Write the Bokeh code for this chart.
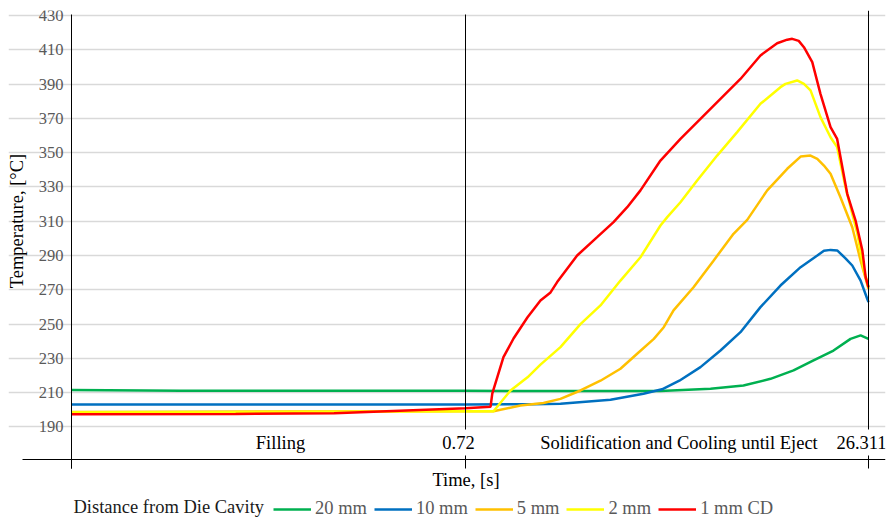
from bokeh.plotting import figure
from bokeh.models import (Range1d, LinearAxis, FixedTicker, Grid, Legend, LegendItem,
                          CustomJSTickFormatter, Label)
from bokeh.embed import file_html
from bokeh.resources import INLINE

# ---------------- data (time in s, temperature in degC) ----------------
T_FILL = 0.72
T_END = 26.311

t_20mm = [0, 0.2, 0.72, 6.0, 13.10, 16.28, 18.37, 20.09, 21.55, 22.82, 24.09, 25.17, 25.81, 26.311]
temp_20mm = [211.6, 211.2, 211.1, 211.0, 211.0, 212.3, 214.2, 218.1, 223.0, 228.8, 234.6, 241.4, 243.4, 241.4]

t_10mm = [0, 0.72, 5.0, 6.75, 9.93, 12.02, 13.2, 14.3, 15.64, 16.91, 18.18, 19.45, 20.72, 22.00,
          23.06, 23.48, 23.90, 24.32, 24.85, 25.28, 25.81, 26.24, 26.311]
temp_10mm = [203.1, 203.1, 203.3, 203.5, 205.9, 209.4, 212.0, 217.0, 224.9, 234.6, 245.3, 259.9, 272.5, 283.2,
             290.0, 292.8, 293.3, 293.0, 288.4, 284.2, 275.4, 264.5, 262.8]

t_5mm = [0, 0.72, 2.50, 4.21, 5.67, 6.75, 8.02, 9.29, 10.56, 11.62, 12.68, 13.31, 13.93, 15.20, 16.47,
         17.74, 18.61, 19.88, 21.15, 22.00, 22.63, 23.06, 23.48, 23.90, 24.53, 25.28, 25.81, 26.311]
temp_5mm = [198.8, 199.2, 199.2, 202.5, 204.0, 206.4, 211.3, 217.0, 224.0, 232.7, 241.4, 248.2, 258.0, 271.5, 287.0,
            302.7, 310.8, 328.0, 340.6, 347.7, 348.3, 346.4, 342.5, 337.7, 324.0, 306.5, 287.0, 270.6]

t_2mm = [0, 0.30, 0.60, 0.72, 2.50, 3.58, 4.66, 5.48, 6.75, 8.02, 9.29, 10.56, 11.83, 13.10, 13.53, 14.37,
         15.43, 16.70, 17.97, 19.45, 20.72, 21.04, 21.78, 22.21, 22.63, 23.26, 23.90, 24.32, 24.85, 25.28, 25.60,
         26.02, 26.311]
temp_2mm = [198.6, 198.7, 199.0, 199.2, 199.2, 211.3, 219.0, 226.4, 236.6, 250.0, 260.9, 275.4, 289.0, 307.5, 312.4, 321.1,
            333.8, 348.3, 362.0, 378.5, 388.2, 390.1, 392.1, 390.1, 386.3, 370.7, 359.0, 353.2, 329.9, 314.3, 303.0,
            281.3, 272.0]

t_1mm = [0, 0.30, 0.48, 0.60, 0.72, 2.31, 2.42, 3.13, 3.77, 4.66, 5.48, 6.12, 6.54, 7.81, 9.08, 10.12, 10.99,
         11.83, 13.10, 14.37, 15.64, 16.91, 18.18, 19.45, 20.51, 21.15, 21.47, 21.88, 22.21, 22.74, 23.26, 23.90,
         24.32, 24.96, 25.49, 25.92, 26.13, 26.311]
temp_1mm = [197.5, 197.6, 198.0, 199.5, 201.0, 201.8, 209.5, 230.7, 241.6, 254.0, 263.8, 268.5, 274.5, 290.0, 300.7, 309.5, 318.2,
            328.0, 345.4, 358.0, 369.7, 381.4, 393.0, 406.7, 413.8, 415.9, 416.4, 415.2, 411.5, 402.8, 384.3, 364.9,
            358.0, 326.0, 310.4, 293.0, 277.4, 271.5]

series_names = ["20 mm", "10 mm", "5 mm", "2 mm", "1 mm CD"]
series_t = [t_20mm, t_10mm, t_5mm, t_2mm, t_1mm]
series_temp = [temp_20mm, temp_10mm, temp_5mm, temp_2mm, temp_1mm]
series_colors = ["#00B050", "#0070C0", "#FFC000", "#FFFF00", "#FF0000"]
legend_title = "Distance from Die Cavity"

y_ticks = [190, 210, 230, 250, 270, 290, 310, 330, 350, 370, 390, 410, 430]
x_tick_times = [0, T_FILL, T_END]
x_tick_labels = ["0.72", "26.311"]
phase_labels = ["Filling", "Solidification and Cooling until Eject"]

# ---------------- scale: two phases drawn side by side ----------------
FILL_W = 394.0    # display width of filling phase
COOL_W = 403.0    # display width of solidification phase


def to_disp(t):
    if t <= T_FILL:
        return t / T_FILL * FILL_W
    return FILL_W + (t - T_FILL) / (T_END - T_FILL) * COOL_W


X_AXIS_AT = 171.05
SERIF = "Liberation Serif"
FS = "18.5px"

p = figure(frame_width=877, frame_height=509, output_backend="svg", toolbar_location=None,
           x_axis_type=None, y_axis_type=None,
           x_range=Range1d(-63, 814), y_range=Range1d(136.05, 432.916),
           min_border_left=8, min_border_top=10, min_border_right=3, min_border_bottom=0)
p.outline_line_color = None
p.background_fill_color = "white"
p.border_fill_color = "white"

# horizontal gridlines
p.add_layout(Grid(dimension=1, ticker=FixedTicker(ticks=y_ticks), bounds=(0, 804),
                  grid_line_color="#D9D9D9", grid_line_width=1.5))


def plain_axis(**kw):
    return LinearAxis(ticker=FixedTicker(ticks=[]), major_tick_in=0, major_tick_out=0,
                      minor_tick_in=0, minor_tick_out=0, **kw)


# phase separator lines (axis lines limited by bounds)
p.add_layout(plain_axis(fixed_location=to_disp(T_FILL), bounds=(188.3, 430.6),
                        axis_line_color="#000000", axis_line_width=1), "left")
p.add_layout(plain_axis(fixed_location=to_disp(T_END), bounds=(188.3, 432.9),
                        axis_line_color="#000000", axis_line_width=1), "left")

# y axis with tick labels
yax = LinearAxis(fixed_location=0, ticker=FixedTicker(ticks=y_ticks), bounds=(165.8, 430.6),
                 major_tick_in=0, major_tick_out=0, minor_tick_in=0, minor_tick_out=0,
                 axis_line_color="#000000", axis_line_width=1,
                 major_label_text_font=SERIF, major_label_text_font_size="16.5px",
                 major_label_text_color="#595959", major_label_standoff=8)
p.add_layout(yax, "left")
# y axis title
p.add_layout(plain_axis(fixed_location=0, bounds=(190, 430), axis_line_color=None,
                        axis_label="Temperature, [°C]", axis_label_text_font=SERIF,
                        axis_label_text_font_size=FS, axis_label_text_font_style="normal",
                        axis_label_text_color="#000000", axis_label_standoff=45), "left")

# x axis line with ticks at phase boundaries
xax = LinearAxis(fixed_location=X_AXIS_AT, ticker=FixedTicker(ticks=[to_disp(t) for t in x_tick_times]),
                 bounds=(-49, 814),
                 axis_line_color="#000000", axis_line_width=1,
                 major_tick_line_color="#000000", major_tick_in=9, major_tick_out=4,
                 minor_tick_in=0, minor_tick_out=0,
                 major_label_text_color=None, major_label_text_font_size="1px")
p.add_layout(xax, "above")

# x labels (phase names and boundary times), drawn above the axis line
label_pos = [to_disp(T_FILL / 2) + 12, to_disp(T_FILL) - 7,
             (to_disp(T_FILL) + to_disp(T_END)) / 2 + 12, to_disp(T_END) - 7]
label_txt = [phase_labels[0], x_tick_labels[0], phase_labels[1], x_tick_labels[1]]
xlab = LinearAxis(fixed_location=X_AXIS_AT, ticker=FixedTicker(ticks=label_pos),
                  formatter=CustomJSTickFormatter(args=dict(labels=label_txt), code="return labels[index];"),
                  axis_line_color=None, major_tick_in=0, major_tick_out=0, minor_tick_in=0, minor_tick_out=0,
                  major_label_text_font=SERIF, major_label_text_font_size=FS,
                  major_label_text_color="#000000", major_label_standoff=6)
p.add_layout(xlab, "above")

# x axis title
p.add_layout(Label(x=to_disp(T_END) / 2 - 4, y=158.8, text="Time, [s]", text_align="center",
                   text_baseline="middle", text_font=SERIF, text_font_size=FS,
                   text_color="#000000"))

items = []
for name, ts, temps, col in zip(series_names, series_t, series_temp, series_colors):
    r = p.line([to_disp(t) for t in ts], temps, line_color=col, line_width=2.5)
    items.append(LegendItem(label=name, renderers=[r]))

# legend title, to the left of the legend entries
p.add_layout(Label(x=2, y=143.6, text=legend_title, text_align="left", text_baseline="middle",
                   text_font=SERIF, text_font_size=FS, text_color="#1a1a1a"))

legend = Legend(items=items, orientation="horizontal",
                label_text_font=SERIF, label_text_font_size=FS, label_text_color="#595959",
                glyph_width=38, glyph_height=14, label_standoff=4, spacing=7,
                padding=3, margin=0, border_line_color=None, background_fill_alpha=0,
                location=(265, 0))
p.add_layout(legend)

open("out.html", "w").write(file_html(p, INLINE))
